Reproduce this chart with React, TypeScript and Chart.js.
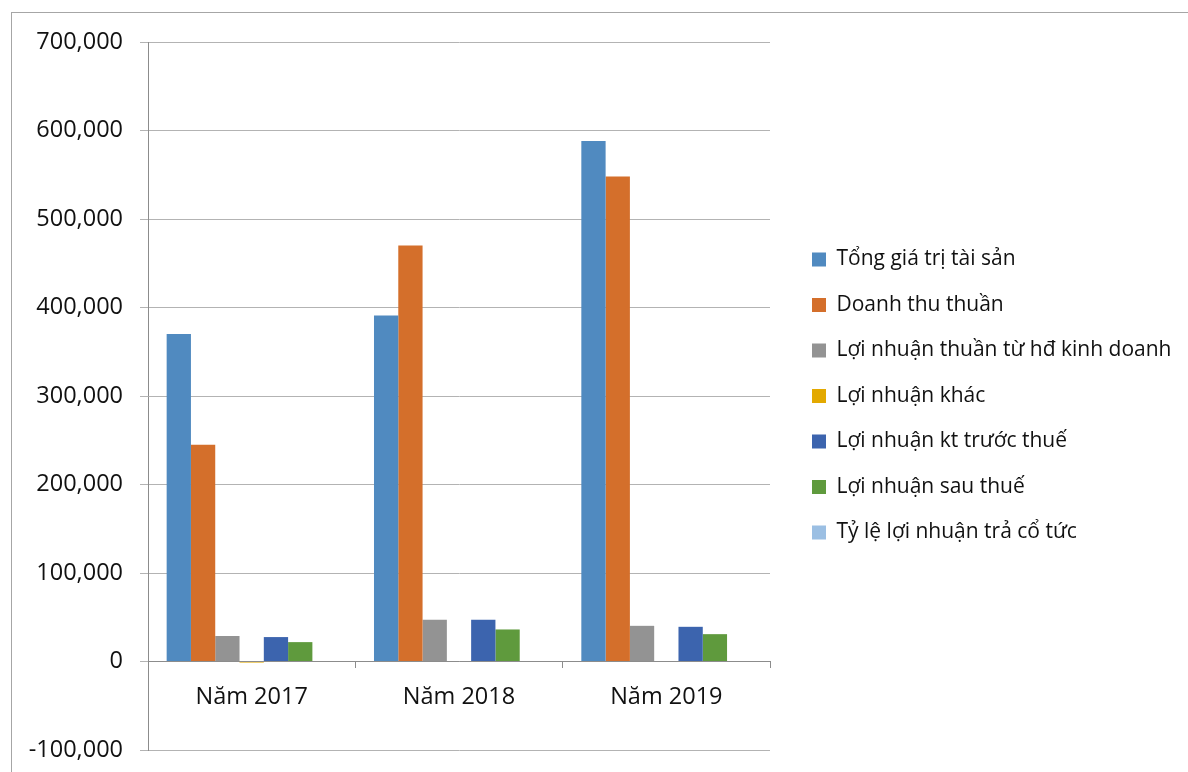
import { useEffect, useRef } from 'react';
import { Chart, registerables } from 'chart.js';

Chart.register(...registerables);

const categories = ['Năm 2017', 'Năm 2018', 'Năm 2019'];

const seriesNames = [
  'Tổng giá trị tài sản',
  'Doanh thu thuần',
  'Lợi nhuận thuần từ hđ kinh doanh',
  'Lợi nhuận khác',
  'Lợi nhuận kt trước thuế',
  'Lợi nhuận sau thuế',
  'Tỷ lệ lợi nhuận trả cổ tức',
];

const tongGiaTriTaiSan = [370000, 391000, 588000];
const doanhThuThuan = [245000, 470000, 548000];
const loiNhuanThuanHDKD = [28800, 47200, 40300];
const loiNhuanKhac = [-1200, 0, 0];
const loiNhuanTruocThue = [27600, 47200, 39200];
const loiNhuanSauThue = [21900, 36200, 30900];
const tyLeTraCoTuc = [0, 0, 0];

const seriesColors = ['#508ac0', '#d46f2b', '#939393', '#e3a900', '#3c64ae', '#5f9a3d', '#9bbfe3'];

const yMin = -100000;
const yMax = 700000;
const yStep = 100000;

const FONT = "'Open Sans', 'Noto Sans', sans-serif";

export default function App() {
  const ref = useRef<HTMLCanvasElement | null>(null);

  useEffect(() => {
    if (!ref.current) return;
    const values = [
      tongGiaTriTaiSan,
      doanhThuThuan,
      loiNhuanThuanHDKD,
      loiNhuanKhac,
      loiNhuanTruocThue,
      loiNhuanSauThue,
      tyLeTraCoTuc,
    ];
    const frame = {
      id: 'frame',
      afterInit(chart: any) {
        const lg = chart.legend;
        if (lg && !lg.__patched) {
          const origFit = lg.fit.bind(lg);
          lg.fit = function () {
            origFit();
            this.width = 400.5;
          };
          lg.__patched = true;
        }
      },
      beforeDraw(chart: any) {
        const ctx = chart.ctx;
        ctx.save();
        ctx.fillStyle = '#ffffff';
        ctx.fillRect(0, 0, chart.width, chart.height);
        ctx.strokeStyle = '#a6a6a6';
        ctx.lineWidth = 1;
        ctx.strokeRect(11.5, 12.5, 1400, 1000);
        ctx.restore();
      },
    };
    const chart = new Chart(ref.current, {
      type: 'bar',
      data: {
        labels: categories,
        datasets: seriesNames.map((name, i) => ({
          label: name,
          data: values[i],
          backgroundColor: seriesColors[i],
          borderWidth: 0,
          categoryPercentage: 0.82,
          barPercentage: 1,
          yAxisID: 'y',
        })),
      },
      options: {
        responsive: false,
        animation: false,
        layout: { padding: { left: 0, top: 42, right: 0, bottom: 22 } },
        plugins: {
          tooltip: { enabled: false },
          legend: {
            position: 'right',
            align: 'center',
            maxWidth: 600,
            labels: {
              boxWidth: 14,
              boxHeight: 14,
              padding: 24.5,
              color: '#111',
              font: { family: FONT, size: 21 },
            },
          },
        },
        scales: {
          x: {
            type: 'category',
            position: { y: 0 } as any,
            offset: true,
            grid: {
              display: true,
              offset: true,
              drawOnChartArea: false,
              drawTicks: true,
              tickLength: 6,
              color: '#8c8c8c',
            },
            border: { display: true, color: '#8c8c8c', width: 1 },
            ticks: { color: '#111', padding: 16, font: { family: FONT, size: 23.5 } },
          },
          y: {
            type: 'linear',
            position: 'left',
            min: yMin,
            max: yMax,
            ticks: {
              stepSize: yStep,
              color: '#111',
              padding: 17,
              font: { family: FONT, size: 23.5 },
              callback: (v: any) => Number(v).toLocaleString('en-US'),
            },
            grid: { color: '#b3b3b3', tickLength: 8, drawTicks: true },
            border: { display: true, color: '#8c8c8c', width: 1 },
            afterFit: (s: any) => {
              s.width = 148;
              s.paddingTop = 0;
              s.paddingBottom = 0;
            },
          },
          spacer: {
            type: 'linear',
            position: 'right',
            display: true,
            grid: { display: false, drawOnChartArea: false },
            ticks: { display: false },
            border: { display: false },
            afterFit: (s: any) => {
              s.width = 17.5;
              s.paddingTop = 0;
              s.paddingBottom = 0;
            },
          },
        },
      },
      plugins: [frame],
    } as any);
    return () => chart.destroy();
  }, []);

  return (
    <div style={{ position: 'absolute', left: 0, top: 0, width: 1188, height: 772, overflow: 'hidden' }}>
      <canvas ref={ref} width={1188} height={772} style={{ display: 'block' }} />
    </div>
  );
}
